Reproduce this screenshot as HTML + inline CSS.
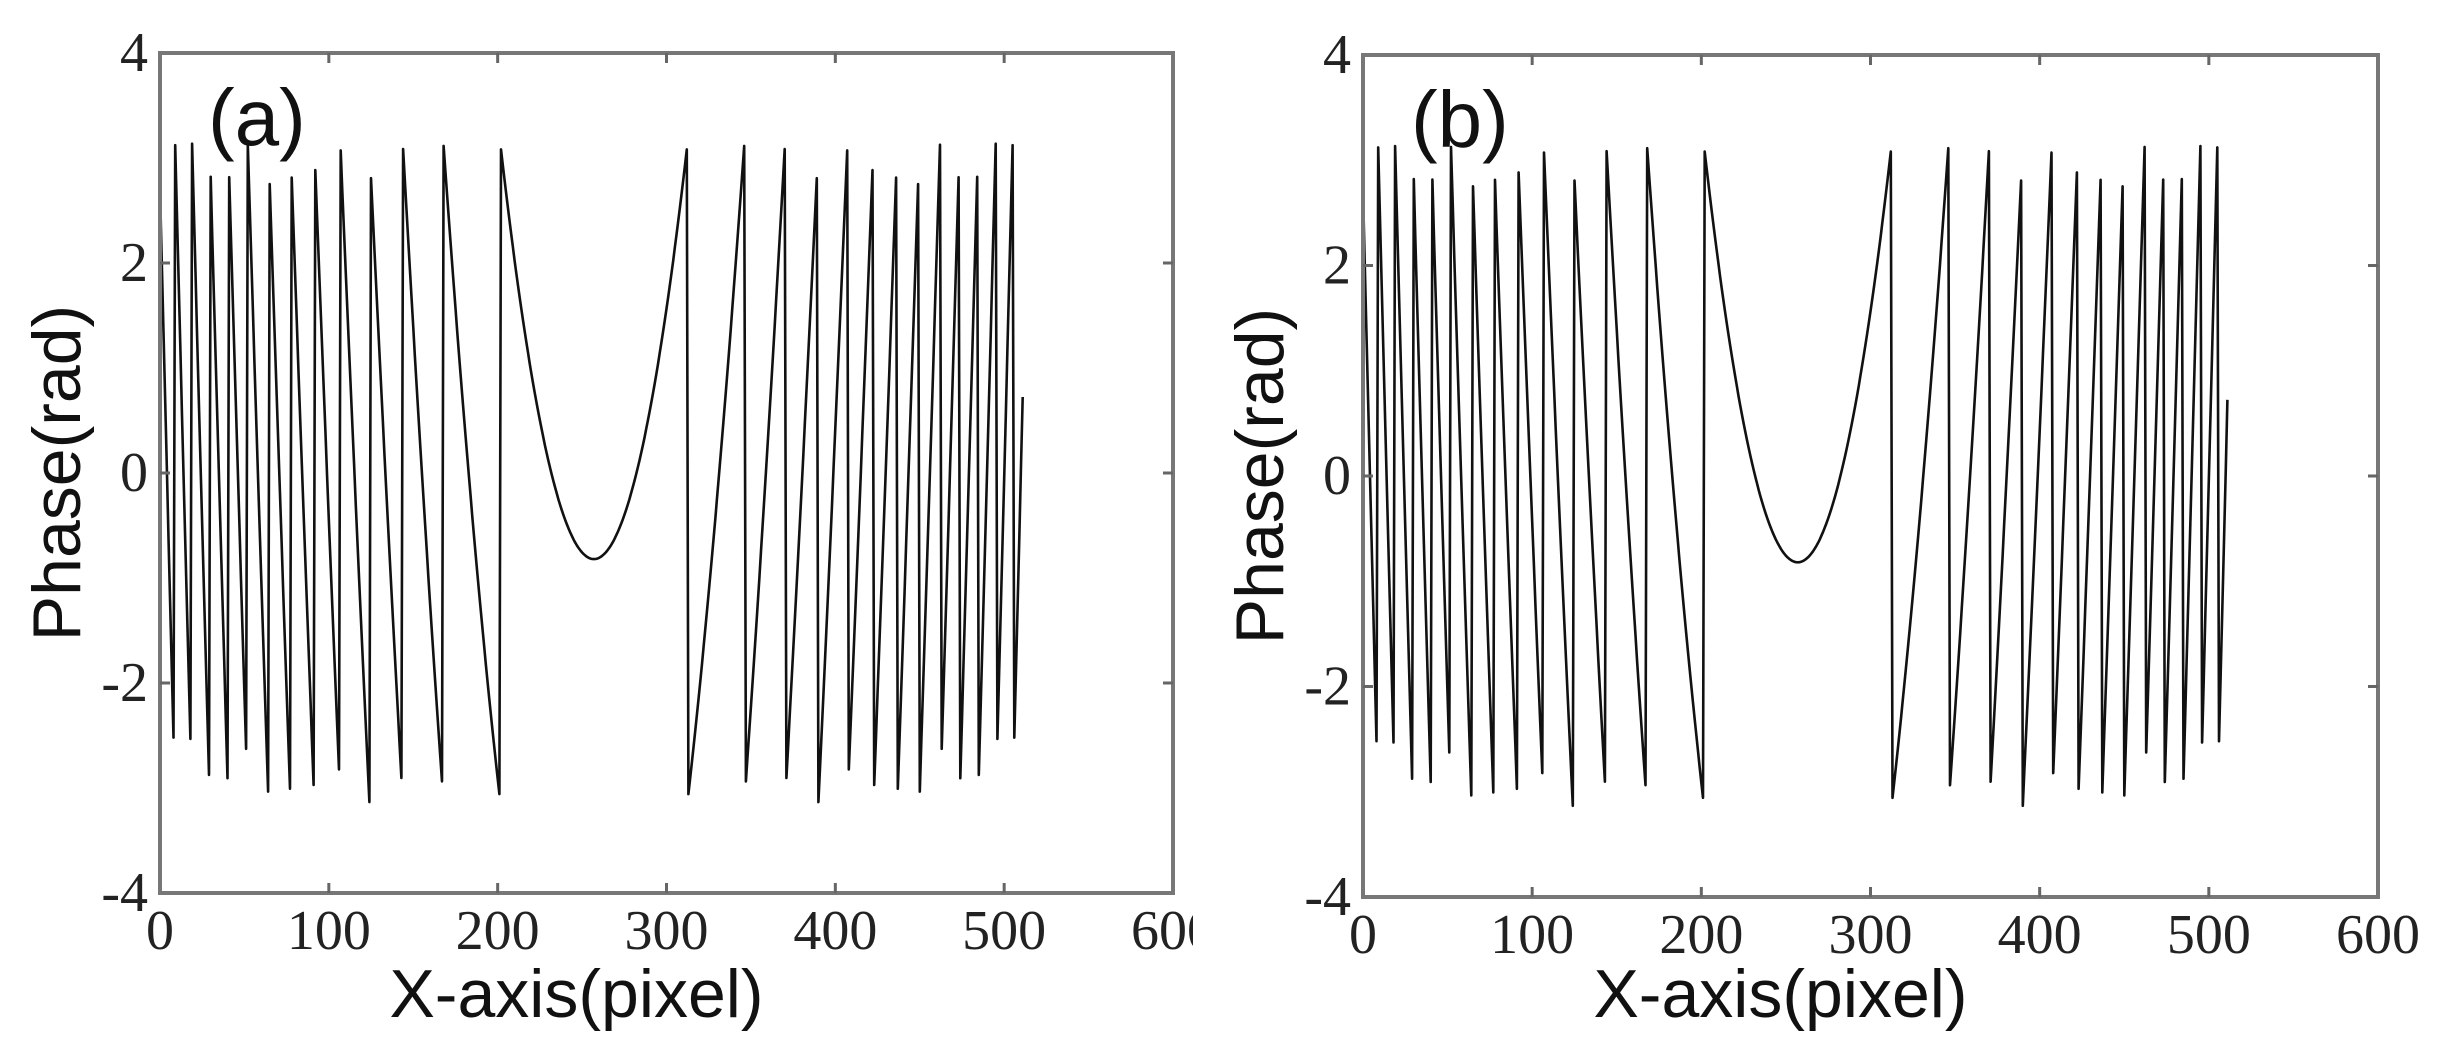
<!DOCTYPE html>
<html><head><meta charset="utf-8"><style>
html,body{margin:0;padding:0;background:#fff;}
svg{display:block;}
.t{font-family:"Liberation Serif",serif;font-size:56px;fill:#222;}
.l{font-family:"Liberation Sans",sans-serif;font-size:68px;fill:#111;}
</style></head><body>
<svg id="s" width="2445" height="1057" xmlns="http://www.w3.org/2000/svg"></svg>
<script>
var s=document.getElementById('s'),NS='http://www.w3.org/2000/svg';
function el(n,a,t,p){var e=document.createElementNS(NS,n);for(var k in a)e.setAttribute(k,a[k]);if(t)e.textContent=t;(p||s).appendChild(e);return e;}
var defs=el('defs',{});var cp=el('clipPath',{id:'c1'},null,defs);el('rect',{x:0,y:0,width:1193,height:1057},null,cp);
function panel(x0,x1,y0,y1,lab,endx,clip){
  var sx=(x1-x0)/600, sy=(y1-y0)/8;
  function X(v){return x0+v*sx;} function Y(v){return y1-(v+4)*sy;}
  var pts=[];
  for(var i=0;i<=endx;i++){
    var p=0.00129*(i-257)*(i-257)-0.82;
    p=p-2*Math.PI*Math.round(p/(2*Math.PI));
    pts.push(X(i).toFixed(1)+','+Y(p).toFixed(1));
  }
  el('polyline',{points:pts.join(' '),fill:'none',stroke:'#111','stroke-width':2.6,'stroke-linejoin':'round'});
  el('rect',{x:x0,y:y0,width:x1-x0,height:y1-y0,fill:'none',stroke:'#777','stroke-width':4});
  for(var v=0;v<=600;v+=100){
    var x=X(v);
    if(v>0&&v<600){el('line',{x1:x,y1:y1,x2:x,y2:y1-10,stroke:'#666','stroke-width':3});el('line',{x1:x,y1:y0,x2:x,y2:y0+10,stroke:'#666','stroke-width':3});}
    var a={x:x,y:y1+56,'text-anchor':'middle','class':'t'};
    if(clip&&v==600)a['clip-path']='url(#c1)';
    el('text',a,String(v));
  }
  for(var v=-4;v<=4;v+=2){
    var y=Y(v);
    if(v>-4&&v<4){el('line',{x1:x0,y1:y,x2:x0+10,y2:y,stroke:'#666','stroke-width':3});el('line',{x1:x1,y1:y,x2:x1-10,y2:y,stroke:'#666','stroke-width':3});}
    el('text',{x:x0-12,y:y+18,'text-anchor':'end','class':'t'},String(v));
  }
  el('text',{x:(x0+x1)/2-90,y:1017,'text-anchor':'middle','class':'l'},'X-axis(pixel)');
  el('text',{x:0,y:0,'text-anchor':'middle','class':'l',transform:'translate('+(x0-80)+','+((y0+y1)/2)+') rotate(-90)'},'Phase(rad)');
  el('text',{x:x0+48,y:y0+92,'class':'l',style:'font-size:80px'},lab);
}
panel(160,1173,53,893,'(a)',511,true);
panel(1363,2378,55,897,'(b)',511,false);
</script>
</body></html>
